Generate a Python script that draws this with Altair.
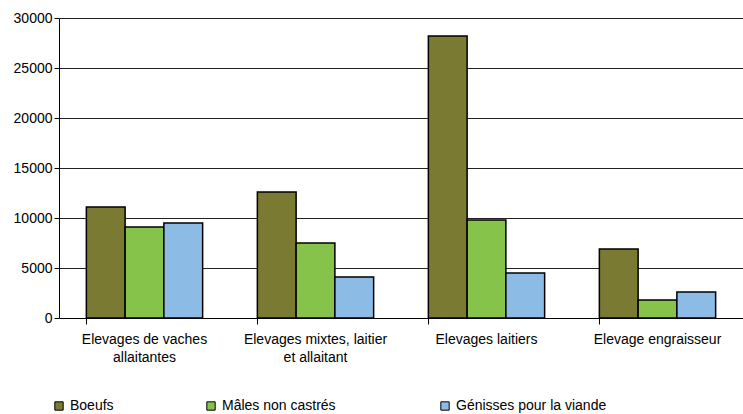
import altair as alt
import pandas as pd

groups = ["Elevages de vaches allaitantes", "Elevages mixtes, laitier et allaitant",
          "Elevages laitiers", "Elevage engraisseur"]
series = ["Boeufs", "Mâles non castrés", "Génisses pour la viande"]
boeufs = [11100, 12600, 28200, 6900]
males = [9100, 7500, 9800, 1800]
genisses = [9500, 4100, 4500, 2600]
colors = ["#7a7a32", "#86c34a", "#8cbce6"]

rows = []
for i, g in enumerate(groups):
    for s, vals in zip(series, [boeufs, males, genisses]):
        rows.append({"groupe": g, "serie": s, "valeur": vals[i]})
df = pd.DataFrame(rows)

label_expr = (
    "datum.label == 'Elevages de vaches allaitantes' ? ['Elevages de vaches', 'allaitantes'] : "
    "datum.label == 'Elevages mixtes, laitier et allaitant' ? ['Elevages mixtes, laitier', 'et allaitant'] : "
    "datum.label"
)
legend_expr = ("datum.label == 'Mâles non castrés' ? "
               "datum.label + '\u00a0\u00a0\u00a0\u200b' : datum.label")

font = "Liberation Sans"

chart = alt.Chart(df).mark_bar(stroke="black", strokeWidth=1.5).encode(
    x=alt.X("groupe:N", sort=groups, title=None,
            scale=alt.Scale(paddingInner=0.32, paddingOuter=0.16),
            axis=alt.Axis(labelAngle=0, labelExpr=label_expr, bandPosition=0,
                          tickSize=6, tickColor="black", domainColor="black",
                          labelPadding=8, labelLineHeight=18, labelFontSize=14,
                          labelFont=font, labelColor="black", labelLimit=300)),
    xOffset=alt.XOffset("serie:N", sort=series, scale=alt.Scale(paddingInner=0, paddingOuter=0)),
    y=alt.Y("valeur:Q", title=None,
            scale=alt.Scale(domain=[0, 30000]),
            axis=alt.Axis(values=[0, 5000, 10000, 15000, 20000, 25000, 30000],
                          format="d",
                          tickSize=5, tickColor="black", domainColor="black",
                          gridColor="#222222", gridWidth=1,
                          labelFontSize=14, labelFont=font, labelColor="black",
                          labelPadding=2)),
    color=alt.Color("serie:N", sort=series,
                    scale=alt.Scale(domain=series, range=colors),
                    legend=alt.Legend(title=None, orient="none", direction="horizontal",
                                      legendX=-7, legendY=381, columns=3,
                                      columnPadding=90, gridAlign="each",
                                      symbolType="square", symbolSize=70,
                                      symbolStrokeColor="black", symbolStrokeWidth=1,
                                      labelFontSize=14, labelFont=font,
                                      labelColor="black", symbolOffset=0,
                                      labelOffset=4, labelExpr=legend_expr)),
).properties(
    width=684, height=300,
    padding={"left": 59, "top": 18, "right": 0, "bottom": 96},
    autosize=alt.AutoSizeParams(type="none"),
).configure_view(stroke=None).configure_axis(domainWidth=1, tickWidth=1, labelFont=font)

chart.save("out.html", embed_options={"renderer": "svg", "actions": False})
